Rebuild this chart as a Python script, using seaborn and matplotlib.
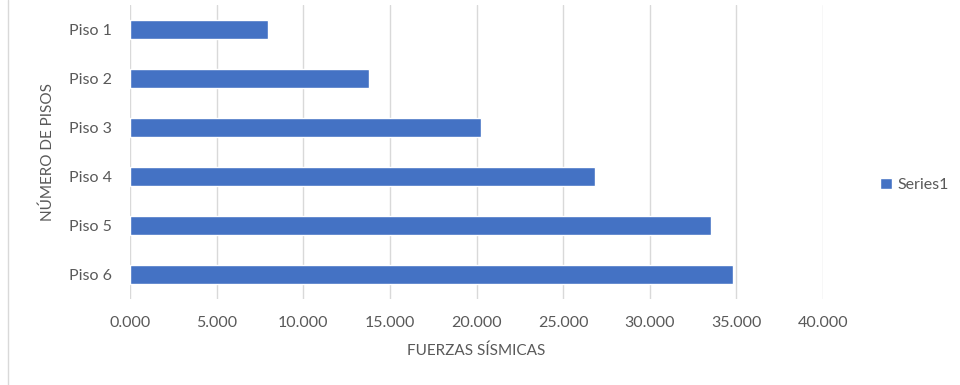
import matplotlib
matplotlib.use("Agg")
import matplotlib.pyplot as plt
import seaborn as sns
import pandas as pd
from matplotlib.ticker import FuncFormatter
from matplotlib.lines import Line2D

categories = ["Piso 1", "Piso 2", "Piso 3", "Piso 4", "Piso 5", "Piso 6"]
values = [7.98, 13.81, 20.25, 26.83, 33.56, 34.81]
series_name = "Series1"
x_ticks = [0, 5, 10, 15, 20, 25, 30, 35, 40]

sns.set_theme(style="white")
plt.rcParams['font.family'] = ['Lato', 'DejaVu Sans']

df = pd.DataFrame({"piso": categories, "fuerza": values, "serie": series_name})

fig = plt.figure(figsize=(9.6, 3.85), dpi=100)
ax = fig.add_axes([130/960, 1 - 299/385, (823-130)/960, (299-5)/385])

sns.barplot(data=df, x="fuerza", y="piso", hue="serie", orient="h",
            palette=["#4472C4"], width=0.39, ax=ax, zorder=3, saturation=1)

ax.set_xlim(0, 40)
ax.set_xticks(x_ticks)
ax.xaxis.set_major_formatter(FuncFormatter(lambda v, p: f"{v:.3f}"))
ax.grid(axis="x", color="#d9d9d9", linewidth=1, zorder=0)
ax.grid(axis="y", visible=False)
for s in ax.spines.values():
    s.set_visible(False)
ax.tick_params(axis="both", length=0, labelsize=11.5, labelcolor="#595959")
ax.tick_params(axis="x", pad=12)
ax.tick_params(axis="y", pad=13)

ax.set_xlabel("FUERZAS SÍSMICAS", fontsize=11, color="#595959", labelpad=10)
ax.set_ylabel("NÚMERO DE PISOS", fontsize=11, color="#595959", labelpad=10)

leg = ax.legend(loc="center left", bbox_to_anchor=(866/960, 1 - 185/385),
                bbox_transform=fig.transFigure, frameon=False,
                handlelength=0.75, handleheight=0.75, handletextpad=0.3,
                fontsize=11.5)
for t in leg.get_texts():
    t.set_color("#595959")

fig.add_artist(Line2D([8/960, 8/960], [0, 1], transform=fig.transFigure,
                      color="#d9d9d9", linewidth=1))

fig.savefig("out.png", dpi=100)
